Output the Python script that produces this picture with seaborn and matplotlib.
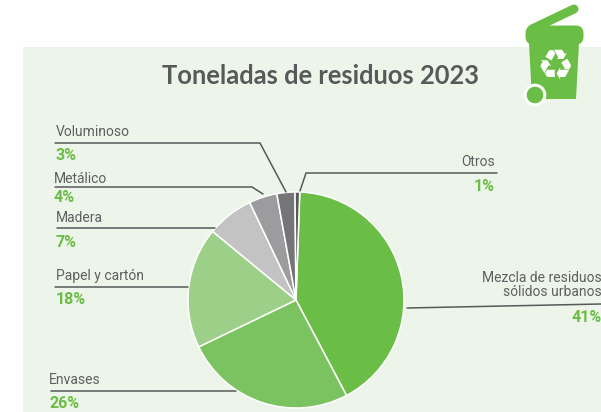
import matplotlib
matplotlib.use('Agg')
import matplotlib.pyplot as plt
from matplotlib.patches import Rectangle, Polygon, Circle, FancyBboxPatch
import seaborn as sns

categories = ['Mezcla de residuos\nsólidos urbanos', 'Envases', 'Papel y cartón', 'Madera', 'Metálico', 'Voluminoso', 'Otros']
# slice sizes as measured on the pie, the printed labels are rounded
shares = [41.7, 25.6, 18.1, 7.0, 4.2, 2.7, 0.7]
percent_labels = ['41%', '26%', '18%', '7%', '4%', '3%', '1%']
slice_colors = ['#6abd45', '#7bc361', '#9ccf87', '#c3c3c3', '#9c9c9e', '#757577', '#58595b']
title = 'Toneladas de residuos 2023'

# label x, label y, percent y, alignment, leader line (pixels of the picture)
layout = {
    'Voluminoso': (56, 132, 155, 'left', [(55, 143), (260, 143), (286, 192)]),
    'Metálico': (54, 179, 197, 'left', [(55, 187), (252, 187), (263, 194)]),
    'Madera': (56, 218, 242, 'left', [(57, 228), (215, 228)]),
    'Papel y cartón': (56, 276, 299, 'left', [(55, 287), (188, 287)]),
    'Envases': (49, 380, 403, 'left', [(51, 391), (236, 391)]),
    'Otros': (495, 162, 186, 'right', [(497, 173), (306, 173), (300, 191)]),
    'Mezcla de residuos\nsólidos urbanos': (602, 285, 317, 'right', [(407, 308), (601, 304)]),
}

W, H = 601, 412
GREEN = '#6abd45'
TEXT = '#5f6062'

sns.set_theme(style='white')
plt.rcParams['font.family'] = ['Roboto', 'DejaVu Sans']

fig = plt.figure(figsize=(W / 100, H / 100), dpi=100, facecolor='white')

# background panel in picture pixels
bg = fig.add_axes([0, 0, 1, 1])
bg.set_xlim(0, W)
bg.set_ylim(H, 0)
bg.axis('off')
bg.add_patch(Rectangle((23, 47), W - 23, H - 47, color='#edf4e9', lw=0))

# pie
cx, cy, r = 296, 300, 108
pie_ax = fig.add_axes([(cx - r) / W, (H - cy - r) / H, 2 * r / W, 2 * r / H])
pie_ax.pie(shares, colors=sns.color_palette(slice_colors), startangle=88, counterclock=False,
           radius=1, wedgeprops={'edgecolor': 'white', 'linewidth': 1.1})
pie_ax.set_xlim(-1, 1)
pie_ax.set_ylim(-1, 1)

top = fig.add_axes([0, 0, 1, 1])
top.set_xlim(0, W)
top.set_ylim(H, 0)
top.axis('off')
top.patch.set_alpha(0)

for name, pct in zip(categories, percent_labels):
    x, y, py, ha, line = layout[name]
    top.plot([p[0] for p in line], [p[1] for p in line], color='#58595b', lw=1.1, solid_joinstyle='miter', clip_on=False)
    top.text(x, y, name, ha=ha, va='center', fontsize=10, color=TEXT, linespacing=1.0)
    top.text(x, py, pct, ha=ha, va='center', fontsize=11.5, fontweight='bold', color=GREEN)

top.text(321, 76, title, ha='center', va='center', fontsize=18.4, fontweight='bold', color='#58595b', family='Lato')

# bin icon
top.plot([532, 574], [29, 9], color=GREEN, lw=6.5, solid_capstyle='round')
top.add_patch(FancyBboxPatch((529, 29), 51, 12, boxstyle='round,pad=0,rounding_size=4', mutation_aspect=1, fc=GREEN, ec=GREEN, lw=5))
top.add_patch(Polygon([(529, 43), (579, 43), (576, 99), (532, 99)], fc=GREEN, ec='none'))
top.add_patch(Circle((535, 95), 9.8, fc=GREEN, ec='white', lw=2.2))
top.text(555, 67, '♻', ha='center', va='center', fontsize=30, color='white', family='DejaVu Sans')

fig.savefig('out.png', dpi=100, facecolor='white')
